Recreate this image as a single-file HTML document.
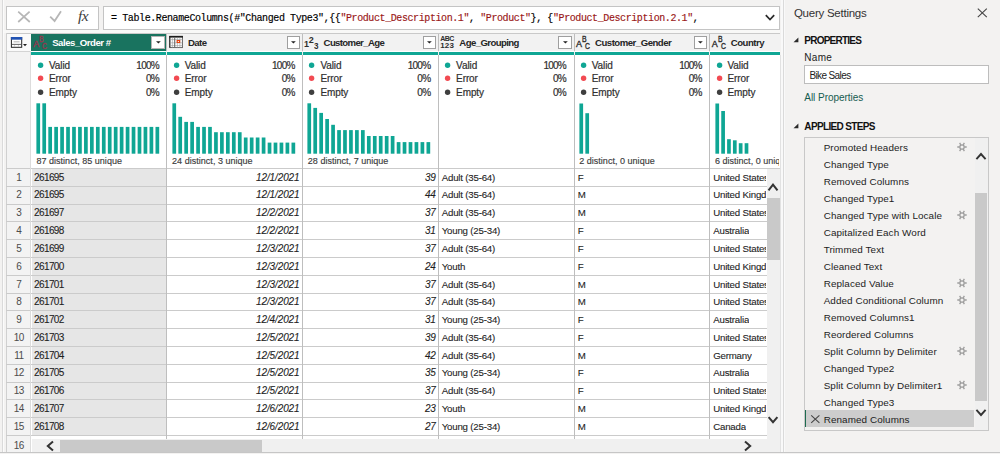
<!DOCTYPE html>
<html lang="en"><head><meta charset="utf-8"><title>Power Query Editor - Bike Sales</title><style>
html,body{margin:0;padding:0;background:#f3f2f1;}
body{width:1000px;height:454px;overflow:hidden;}
#app{position:relative;width:1000px;height:454px;overflow:hidden;background:#f3f2f1;font-family:"Liberation Sans", sans-serif;}
#app>div,#app>svg,#app>span{position:absolute;}
.t{white-space:pre;line-height:20px;height:20px;display:block;}
.k{-webkit-text-stroke:0.1px currentColor;}
.ds{-webkit-text-stroke:0.15px currentColor;}
</style></head><body>
<div id="app">
<div style="left:2px;top:0px;width:1px;height:452px;background:#dadada;"></div>
<div style="left:3px;top:0px;width:1px;height:452px;background:#fbfbfb;"></div>
<div style="left:6px;top:6px;width:92.5px;height:23.5px;background:#fff;border:1px solid #c4c4c4;box-sizing:border-box;"></div>
<div style="left:103px;top:6px;width:676.7px;height:23.5px;background:#fff;border:1px solid #c4c4c4;box-sizing:border-box;"></div>
<svg style="left:16px;top:9px" width="76" height="18" viewBox="16 9 76 18"><path d="M18.2 11.6 L29.8 22 M29.6 11.6 L18.2 22" stroke="#b6b6b6" stroke-width="1.7" fill="none"/><path d="M50.2 16.6 L54.6 21 L61 11.2" stroke="#b6b6b6" stroke-width="1.8" fill="none"/></svg>
<span class="t " id="fx" style="top:5.75px;font-size:15.5px;font-family:'Liberation Serif', serif;color:#3c3c3c;font-style:italic;letter-spacing:-0.600px;left:78.00px;">fx</span>
<span class="t" id="formula" style="left:111.1px;top:8.75px;font-family:'Liberation Mono', monospace;font-size:10px;letter-spacing:-0.408px;color:#000;-webkit-text-stroke:0.15px currentColor">= Table.RenameColumns(#&quot;Changed Type3&quot;,{{<span style="color:#9a1717">&quot;Product_Description.1&quot;</span>, <span style="color:#9a1717">&quot;Product&quot;</span>}, {<span style="color:#9a1717">&quot;Product_Description.2.1&quot;</span>,</span>
<svg style="left:764px;top:13px" width="12" height="9" viewBox="0 0 12 9"><path d="M1.8 2.2 L6 6.6 L10.2 2.2" stroke="#2a2a2a" stroke-width="1.7" fill="none"/></svg>
<div style="left:4px;top:30px;width:776px;height:3px;background:#f8f8f7;"></div>
<div style="left:6px;top:33px;width:774px;height:419px;background:#fff;"></div>
<div style="left:6px;top:33px;width:774px;height:18.2px;background:#f2f2f2;"></div>
<div style="left:7px;top:34px;width:24px;height:17px;background:#fafafa;"></div>
<div style="left:6px;top:33px;width:774px;height:1px;background:#c9c9c9;"></div>
<div style="left:6px;top:51.2px;width:25px;height:400.8px;background:#f3f3f3;"></div>
<div style="left:6px;top:33px;width:1px;height:419px;background:#d0d0d0;"></div>
<div style="left:31px;top:34px;width:135.2px;height:16.8px;background:#19735f;"></div>
<div style="left:31px;top:50.8px;width:749px;height:1.2px;background:#fff;"></div>
<div style="left:31px;top:52px;width:749px;height:3px;background:#0fa694;"></div>
<div style="left:31.5px;top:168.5px;width:135.2px;height:267.0px;background:#e6e6e6;"></div>
<div style="left:6px;top:168px;width:774px;height:1px;background:#cbcbcb;"></div>
<div style="left:6px;top:186px;width:760.5px;height:1px;background:#cbcbcb;"></div>
<div style="left:6px;top:204px;width:760.5px;height:1px;background:#cbcbcb;"></div>
<div style="left:6px;top:221px;width:760.5px;height:1px;background:#cbcbcb;"></div>
<div style="left:6px;top:239px;width:760.5px;height:1px;background:#cbcbcb;"></div>
<div style="left:6px;top:257px;width:760.5px;height:1px;background:#cbcbcb;"></div>
<div style="left:6px;top:275px;width:760.5px;height:1px;background:#cbcbcb;"></div>
<div style="left:6px;top:293px;width:760.5px;height:1px;background:#cbcbcb;"></div>
<div style="left:6px;top:310px;width:760.5px;height:1px;background:#cbcbcb;"></div>
<div style="left:6px;top:328px;width:760.5px;height:1px;background:#cbcbcb;"></div>
<div style="left:6px;top:346px;width:760.5px;height:1px;background:#cbcbcb;"></div>
<div style="left:6px;top:364px;width:760.5px;height:1px;background:#cbcbcb;"></div>
<div style="left:6px;top:382px;width:760.5px;height:1px;background:#cbcbcb;"></div>
<div style="left:6px;top:399px;width:760.5px;height:1px;background:#cbcbcb;"></div>
<div style="left:6px;top:417px;width:760.5px;height:1px;background:#cbcbcb;"></div>
<div style="left:6px;top:435px;width:760.5px;height:1px;background:#cbcbcb;"></div>
<div style="left:6px;top:51px;width:25px;height:1px;background:#d4d4d4;"></div>
<div style="left:30px;top:51px;width:1px;height:401px;background:#dcdcdc;"></div>
<div style="left:166px;top:34px;width:1px;height:405px;background:#bebebe;"></div>
<div style="left:166px;top:50.8px;width:1px;height:4.2px;background:#eee;"></div>
<div style="left:302px;top:34px;width:1px;height:405px;background:#bebebe;"></div>
<div style="left:302px;top:50.8px;width:1px;height:4.2px;background:#eee;"></div>
<div style="left:438px;top:34px;width:1px;height:405px;background:#bebebe;"></div>
<div style="left:438px;top:50.8px;width:1px;height:4.2px;background:#eee;"></div>
<div style="left:574px;top:34px;width:1px;height:405px;background:#bebebe;"></div>
<div style="left:574px;top:50.8px;width:1px;height:4.2px;background:#eee;"></div>
<div style="left:709px;top:34px;width:1px;height:405px;background:#bebebe;"></div>
<div style="left:709px;top:50.8px;width:1px;height:4.2px;background:#eee;"></div>
<svg style="left:10px;top:36px" width="19" height="13" viewBox="10 36 19 13"><rect x="11.4" y="37.5" width="10.3" height="9.8" fill="#fff" stroke="#222" stroke-width="1"/><rect x="10.9" y="37" width="11.3" height="2.7" fill="#2153b3"/><rect x="13.6" y="41.2" width="6" height="1.2" fill="#bdbdbd"/><path d="M12 44.4 H21" stroke="#555" stroke-width="0.9" fill="none"/><path d="M14.6 45 V47 M18.4 45 V47" stroke="#bbb" stroke-width="0.7" fill="none"/><path d="M23 44 H27 L25 46.3 Z" fill="#222"/></svg>
<span class="t ic" style="top:34.25px;font-size:9px;color:#96364e;left:33.30px;-webkit-text-stroke:0.35px #96364e;transform-origin:left center;">A</span>
<span class="t ic" style="top:29.25px;font-size:8.6px;color:#96364e;left:39.00px;-webkit-text-stroke:0.35px #96364e;transform-origin:left center;transform:scaleX(0.8);">B</span>
<span class="t ic" style="top:36.25px;font-size:8.4px;color:#96364e;left:42.10px;-webkit-text-stroke:0.35px #96364e;transform-origin:left center;transform:scaleX(0.82);">C</span>
<span class="t " id="h0" style="top:32.75px;font-size:9.6px;color:#fff;font-weight:bold;letter-spacing:-0.470px;left:52.20px;">Sales_Order #</span>
<div style="left:151.1px;top:36px;width:13.6px;height:12.8px;background:#fff;border:1px solid #b4b4b4;box-sizing:border-box"></div>
<svg style="left:155.5px;top:41px" width="5" height="3" viewBox="0 0 5 3"><path d="M0 0.2 H4.8 L2.4 2.6 Z" fill="#222"/></svg>
<svg style="left:168.7px;top:35px" width="15" height="14" viewBox="0 0 15 14"><rect x="0.8" y="1.4" width="12.6" height="11.2" fill="#fdfdfd" stroke="#555" stroke-width="0.9"/><rect x="0.3" y="0.9" width="13.6" height="1.7" fill="#1c1c1c"/><path d="M0.8 1 V12.6" stroke="#222" stroke-width="1"/><path d="M0.8 4.6 H13.4 M0.8 7.8 H13.4 M0.8 10.6 H13.4 M3.4 2.6 V12.6 M5.7 2.6 V12.6 M8.4 2.6 V12.6 M10.9 2.6 V12.6" stroke="#9a9a9a" stroke-width="0.6" fill="none"/><path d="M5.7 2.6 V12.6" stroke="#555" stroke-width="0.8"/><rect x="7.6" y="5" width="3.6" height="3" fill="#e8420e"/><rect x="8.8" y="6" width="1.2" height="0.9" fill="#fff"/></svg>
<span class="t " id="h1" style="top:32.75px;font-size:9.6px;color:#252525;font-weight:bold;letter-spacing:-0.517px;left:187.90px;">Date</span>
<div style="left:286.8px;top:36px;width:13.6px;height:12.8px;background:#fff;border:1px solid #9f9f9f;box-sizing:border-box"></div>
<svg style="left:291.2px;top:41px" width="5" height="3" viewBox="0 0 5 3"><path d="M0 0.2 H4.8 L2.4 2.6 Z" fill="#222"/></svg>
<span class="t ic" style="top:34.25px;font-size:9px;color:#2e2e2e;font-weight:bold;left:304.10px;">1</span>
<span class="t ic" style="top:30.25px;font-size:9px;color:#2e2e2e;font-weight:bold;left:308.80px;">2</span>
<span class="t ic" style="top:36.25px;font-size:9px;color:#2e2e2e;font-weight:bold;left:313.60px;transform:scaleX(0.9);transform-origin:left center;">3</span>
<span class="t " id="h2" style="top:32.75px;font-size:9.6px;color:#252525;font-weight:bold;letter-spacing:-0.647px;left:323.60px;">Customer_Age</span>
<div style="left:422.5px;top:36px;width:13.6px;height:12.8px;background:#fff;border:1px solid #9f9f9f;box-sizing:border-box"></div>
<svg style="left:426.9px;top:41px" width="5" height="3" viewBox="0 0 5 3"><path d="M0 0.2 H4.8 L2.4 2.6 Z" fill="#222"/></svg>
<span class="t ic" style="top:28.75px;font-size:7px;color:#2e2e2e;font-weight:bold;letter-spacing:-0.550px;left:440.30px;">ABC</span>
<span class="t ic" style="top:35.75px;font-size:8px;color:#2e2e2e;font-weight:bold;letter-spacing:0.100px;left:440.30px;">123</span>
<span class="t " id="h3" style="top:32.75px;font-size:9.6px;color:#252525;font-weight:bold;letter-spacing:-0.595px;left:459.30px;">Age_Grouping</span>
<div style="left:558.2px;top:36px;width:13.6px;height:12.8px;background:#fff;border:1px solid #9f9f9f;box-sizing:border-box"></div>
<svg style="left:562.6px;top:41px" width="5" height="3" viewBox="0 0 5 3"><path d="M0 0.2 H4.8 L2.4 2.6 Z" fill="#222"/></svg>
<span class="t ic" style="top:34.25px;font-size:9px;color:#2e2e2e;left:576.10px;-webkit-text-stroke:0.35px #2e2e2e;transform-origin:left center;">A</span>
<span class="t ic" style="top:29.25px;font-size:8.6px;color:#2e2e2e;left:581.80px;-webkit-text-stroke:0.35px #2e2e2e;transform-origin:left center;transform:scaleX(0.8);">B</span>
<span class="t ic" style="top:36.25px;font-size:8.4px;color:#2e2e2e;left:584.90px;-webkit-text-stroke:0.35px #2e2e2e;transform-origin:left center;transform:scaleX(0.82);">C</span>
<span class="t " id="h4" style="top:32.75px;font-size:9.6px;color:#252525;font-weight:bold;letter-spacing:-0.494px;left:595.00px;">Customer_Gender</span>
<div style="left:693.9px;top:36px;width:13.6px;height:12.8px;background:#fff;border:1px solid #9f9f9f;box-sizing:border-box"></div>
<svg style="left:698.3px;top:41px" width="5" height="3" viewBox="0 0 5 3"><path d="M0 0.2 H4.8 L2.4 2.6 Z" fill="#222"/></svg>
<span class="t ic" style="top:34.25px;font-size:9px;color:#2e2e2e;left:711.80px;-webkit-text-stroke:0.35px #2e2e2e;transform-origin:left center;">A</span>
<span class="t ic" style="top:29.25px;font-size:8.6px;color:#2e2e2e;left:717.50px;-webkit-text-stroke:0.35px #2e2e2e;transform-origin:left center;transform:scaleX(0.8);">B</span>
<span class="t ic" style="top:36.25px;font-size:8.4px;color:#2e2e2e;left:720.60px;-webkit-text-stroke:0.35px #2e2e2e;transform-origin:left center;transform:scaleX(0.82);">C</span>
<span class="t " id="h5" style="top:32.75px;font-size:9.6px;color:#252525;font-weight:bold;letter-spacing:-0.467px;left:730.70px;">Country</span>
<svg style="left:36.00px;top:59.80px" width="10" height="10" viewBox="0 0 10 10"><circle cx="4.6" cy="5.2" r="2.7" fill="#0fa694"/></svg>
<span class="t st" id="stat" style="top:55.75px;font-size:10px;color:#2e2e2e;letter-spacing:-0.100px;left:49.00px;-webkit-text-stroke:0.2px #333;">Valid</span>
<span class="t st" id="pct" style="top:55.75px;font-size:10px;color:#2e2e2e;letter-spacing:-0.750px;right:841.10px;-webkit-text-stroke:0.2px #333;">100%</span>
<svg style="left:36.00px;top:73.40px" width="10" height="10" viewBox="0 0 10 10"><circle cx="4.6" cy="5.2" r="2.7" fill="#f24a52"/></svg>
<span class="t st" style="top:68.75px;font-size:10px;color:#2e2e2e;letter-spacing:-0.100px;left:49.00px;-webkit-text-stroke:0.2px #333;">Error</span>
<span class="t st" style="top:68.75px;font-size:10px;color:#2e2e2e;letter-spacing:-0.750px;right:841.10px;-webkit-text-stroke:0.2px #333;">0%</span>
<svg style="left:36.00px;top:87.00px" width="10" height="10" viewBox="0 0 10 10"><circle cx="4.6" cy="5.2" r="2.7" fill="#3f3f3f"/></svg>
<span class="t st" style="top:82.75px;font-size:10px;color:#2e2e2e;letter-spacing:-0.100px;left:49.00px;-webkit-text-stroke:0.2px #333;">Empty</span>
<span class="t st" style="top:82.75px;font-size:10px;color:#2e2e2e;letter-spacing:-0.750px;right:841.10px;-webkit-text-stroke:0.2px #333;">0%</span>
<svg style="left:31.00px;top:100px" width="134" height="56" viewBox="0 0 134 56" fill="#0fa694"><rect x="5.40" y="3.30" width="3.7" height="50.40"/><rect x="11.36" y="3.30" width="3.7" height="50.40"/><rect x="17.31" y="26.90" width="3.7" height="26.80"/><rect x="23.27" y="26.90" width="3.7" height="26.80"/><rect x="29.22" y="26.90" width="3.7" height="26.80"/><rect x="35.17" y="26.90" width="3.7" height="26.80"/><rect x="41.13" y="26.90" width="3.7" height="26.80"/><rect x="47.09" y="26.90" width="3.7" height="26.80"/><rect x="53.04" y="26.90" width="3.7" height="26.80"/><rect x="58.99" y="26.90" width="3.7" height="26.80"/><rect x="64.95" y="26.90" width="3.7" height="26.80"/><rect x="70.91" y="26.90" width="3.7" height="26.80"/><rect x="76.86" y="26.90" width="3.7" height="26.80"/><rect x="82.82" y="26.90" width="3.7" height="26.80"/><rect x="88.77" y="26.90" width="3.7" height="26.80"/><rect x="94.73" y="26.90" width="3.7" height="26.80"/><rect x="100.68" y="26.90" width="3.7" height="26.80"/><rect x="106.64" y="26.90" width="3.7" height="26.80"/><rect x="112.59" y="26.90" width="3.7" height="26.80"/><rect x="118.55" y="26.90" width="3.7" height="26.80"/><rect x="124.50" y="26.90" width="3.7" height="26.80"/></svg>
<span class="t ds" id="dist0" style="top:151.25px;font-size:9px;color:#3c3c3c;letter-spacing:0.024px;left:36.40px;">87 distinct, 85 unique</span>
<svg style="left:171.70px;top:59.80px" width="10" height="10" viewBox="0 0 10 10"><circle cx="4.6" cy="5.2" r="2.7" fill="#0fa694"/></svg>
<span class="t st" style="top:55.75px;font-size:10px;color:#2e2e2e;letter-spacing:-0.100px;left:184.70px;-webkit-text-stroke:0.2px #333;">Valid</span>
<span class="t st" style="top:55.75px;font-size:10px;color:#2e2e2e;letter-spacing:-0.750px;right:705.40px;-webkit-text-stroke:0.2px #333;">100%</span>
<svg style="left:171.70px;top:73.40px" width="10" height="10" viewBox="0 0 10 10"><circle cx="4.6" cy="5.2" r="2.7" fill="#f24a52"/></svg>
<span class="t st" style="top:68.75px;font-size:10px;color:#2e2e2e;letter-spacing:-0.100px;left:184.70px;-webkit-text-stroke:0.2px #333;">Error</span>
<span class="t st" style="top:68.75px;font-size:10px;color:#2e2e2e;letter-spacing:-0.750px;right:705.40px;-webkit-text-stroke:0.2px #333;">0%</span>
<svg style="left:171.70px;top:87.00px" width="10" height="10" viewBox="0 0 10 10"><circle cx="4.6" cy="5.2" r="2.7" fill="#3f3f3f"/></svg>
<span class="t st" style="top:82.75px;font-size:10px;color:#2e2e2e;letter-spacing:-0.100px;left:184.70px;-webkit-text-stroke:0.2px #333;">Empty</span>
<span class="t st" style="top:82.75px;font-size:10px;color:#2e2e2e;letter-spacing:-0.750px;right:705.40px;-webkit-text-stroke:0.2px #333;">0%</span>
<svg style="left:166.70px;top:100px" width="134" height="56" viewBox="0 0 134 56" fill="#0fa694"><rect x="5.40" y="3.30" width="3.7" height="50.40"/><rect x="11.36" y="16.80" width="3.7" height="36.90"/><rect x="17.31" y="21.90" width="3.7" height="31.80"/><rect x="23.27" y="21.90" width="3.7" height="31.80"/><rect x="29.22" y="26.90" width="3.7" height="26.80"/><rect x="35.17" y="26.90" width="3.7" height="26.80"/><rect x="41.13" y="26.90" width="3.7" height="26.80"/><rect x="47.09" y="32.20" width="3.7" height="21.50"/><rect x="53.04" y="32.20" width="3.7" height="21.50"/><rect x="58.99" y="32.20" width="3.7" height="21.50"/><rect x="64.95" y="32.20" width="3.7" height="21.50"/><rect x="70.91" y="32.20" width="3.7" height="21.50"/><rect x="76.86" y="37.50" width="3.7" height="16.20"/><rect x="82.82" y="37.50" width="3.7" height="16.20"/><rect x="88.77" y="37.50" width="3.7" height="16.20"/><rect x="94.73" y="37.50" width="3.7" height="16.20"/><rect x="100.68" y="42.60" width="3.7" height="11.10"/><rect x="106.64" y="42.60" width="3.7" height="11.10"/><rect x="112.59" y="42.60" width="3.7" height="11.10"/><rect x="118.55" y="42.60" width="3.7" height="11.10"/><rect x="124.50" y="42.60" width="3.7" height="11.10"/></svg>
<span class="t ds" id="dist1" style="top:151.25px;font-size:9px;color:#3c3c3c;letter-spacing:0.024px;left:172.10px;">24 distinct, 3 unique</span>
<svg style="left:307.40px;top:59.80px" width="10" height="10" viewBox="0 0 10 10"><circle cx="4.6" cy="5.2" r="2.7" fill="#0fa694"/></svg>
<span class="t st" style="top:55.75px;font-size:10px;color:#2e2e2e;letter-spacing:-0.100px;left:320.40px;-webkit-text-stroke:0.2px #333;">Valid</span>
<span class="t st" style="top:55.75px;font-size:10px;color:#2e2e2e;letter-spacing:-0.750px;right:569.70px;-webkit-text-stroke:0.2px #333;">100%</span>
<svg style="left:307.40px;top:73.40px" width="10" height="10" viewBox="0 0 10 10"><circle cx="4.6" cy="5.2" r="2.7" fill="#f24a52"/></svg>
<span class="t st" style="top:68.75px;font-size:10px;color:#2e2e2e;letter-spacing:-0.100px;left:320.40px;-webkit-text-stroke:0.2px #333;">Error</span>
<span class="t st" style="top:68.75px;font-size:10px;color:#2e2e2e;letter-spacing:-0.750px;right:569.70px;-webkit-text-stroke:0.2px #333;">0%</span>
<svg style="left:307.40px;top:87.00px" width="10" height="10" viewBox="0 0 10 10"><circle cx="4.6" cy="5.2" r="2.7" fill="#3f3f3f"/></svg>
<span class="t st" style="top:82.75px;font-size:10px;color:#2e2e2e;letter-spacing:-0.100px;left:320.40px;-webkit-text-stroke:0.2px #333;">Empty</span>
<span class="t st" style="top:82.75px;font-size:10px;color:#2e2e2e;letter-spacing:-0.750px;right:569.70px;-webkit-text-stroke:0.2px #333;">0%</span>
<svg style="left:302.40px;top:100px" width="134" height="56" viewBox="0 0 134 56" fill="#0fa694"><rect x="5.40" y="3.30" width="3.7" height="50.40"/><rect x="11.36" y="7.90" width="3.7" height="45.80"/><rect x="17.31" y="12.90" width="3.7" height="40.80"/><rect x="23.27" y="19.00" width="3.7" height="34.70"/><rect x="29.22" y="24.80" width="3.7" height="28.90"/><rect x="35.17" y="30.10" width="3.7" height="23.60"/><rect x="41.13" y="30.10" width="3.7" height="23.60"/><rect x="47.09" y="30.10" width="3.7" height="23.60"/><rect x="53.04" y="30.10" width="3.7" height="23.60"/><rect x="58.99" y="30.10" width="3.7" height="23.60"/><rect x="64.95" y="36.00" width="3.7" height="17.70"/><rect x="70.91" y="36.00" width="3.7" height="17.70"/><rect x="76.86" y="36.00" width="3.7" height="17.70"/><rect x="82.82" y="36.00" width="3.7" height="17.70"/><rect x="88.77" y="36.00" width="3.7" height="17.70"/><rect x="94.73" y="42.10" width="3.7" height="11.60"/><rect x="100.68" y="42.10" width="3.7" height="11.60"/><rect x="106.64" y="42.10" width="3.7" height="11.60"/><rect x="112.59" y="42.10" width="3.7" height="11.60"/><rect x="118.55" y="42.10" width="3.7" height="11.60"/><rect x="124.50" y="42.10" width="3.7" height="11.60"/></svg>
<span class="t ds" id="dist2" style="top:151.25px;font-size:9px;color:#3c3c3c;letter-spacing:0.024px;left:307.80px;">28 distinct, 7 unique</span>
<svg style="left:443.10px;top:59.80px" width="10" height="10" viewBox="0 0 10 10"><circle cx="4.6" cy="5.2" r="2.7" fill="#0fa694"/></svg>
<span class="t st" style="top:55.75px;font-size:10px;color:#2e2e2e;letter-spacing:-0.100px;left:456.10px;-webkit-text-stroke:0.2px #333;">Valid</span>
<span class="t st" style="top:55.75px;font-size:10px;color:#2e2e2e;letter-spacing:-0.750px;right:434.00px;-webkit-text-stroke:0.2px #333;">100%</span>
<svg style="left:443.10px;top:73.40px" width="10" height="10" viewBox="0 0 10 10"><circle cx="4.6" cy="5.2" r="2.7" fill="#f24a52"/></svg>
<span class="t st" style="top:68.75px;font-size:10px;color:#2e2e2e;letter-spacing:-0.100px;left:456.10px;-webkit-text-stroke:0.2px #333;">Error</span>
<span class="t st" style="top:68.75px;font-size:10px;color:#2e2e2e;letter-spacing:-0.750px;right:434.00px;-webkit-text-stroke:0.2px #333;">0%</span>
<svg style="left:443.10px;top:87.00px" width="10" height="10" viewBox="0 0 10 10"><circle cx="4.6" cy="5.2" r="2.7" fill="#3f3f3f"/></svg>
<span class="t st" style="top:82.75px;font-size:10px;color:#2e2e2e;letter-spacing:-0.100px;left:456.10px;-webkit-text-stroke:0.2px #333;">Empty</span>
<span class="t st" style="top:82.75px;font-size:10px;color:#2e2e2e;letter-spacing:-0.750px;right:434.00px;-webkit-text-stroke:0.2px #333;">0%</span>
<svg style="left:578.80px;top:59.80px" width="10" height="10" viewBox="0 0 10 10"><circle cx="4.6" cy="5.2" r="2.7" fill="#0fa694"/></svg>
<span class="t st" style="top:55.75px;font-size:10px;color:#2e2e2e;letter-spacing:-0.100px;left:591.80px;-webkit-text-stroke:0.2px #333;">Valid</span>
<span class="t st" style="top:55.75px;font-size:10px;color:#2e2e2e;letter-spacing:-0.750px;right:298.30px;-webkit-text-stroke:0.2px #333;">100%</span>
<svg style="left:578.80px;top:73.40px" width="10" height="10" viewBox="0 0 10 10"><circle cx="4.6" cy="5.2" r="2.7" fill="#f24a52"/></svg>
<span class="t st" style="top:68.75px;font-size:10px;color:#2e2e2e;letter-spacing:-0.100px;left:591.80px;-webkit-text-stroke:0.2px #333;">Error</span>
<span class="t st" style="top:68.75px;font-size:10px;color:#2e2e2e;letter-spacing:-0.750px;right:298.30px;-webkit-text-stroke:0.2px #333;">0%</span>
<svg style="left:578.80px;top:87.00px" width="10" height="10" viewBox="0 0 10 10"><circle cx="4.6" cy="5.2" r="2.7" fill="#3f3f3f"/></svg>
<span class="t st" style="top:82.75px;font-size:10px;color:#2e2e2e;letter-spacing:-0.100px;left:591.80px;-webkit-text-stroke:0.2px #333;">Empty</span>
<span class="t st" style="top:82.75px;font-size:10px;color:#2e2e2e;letter-spacing:-0.750px;right:298.30px;-webkit-text-stroke:0.2px #333;">0%</span>
<svg style="left:573.80px;top:100px" width="134" height="56" viewBox="0 0 134 56" fill="#0fa694"><rect x="5.40" y="3.50" width="3.7" height="50.20"/><rect x="11.36" y="13.20" width="3.7" height="40.50"/></svg>
<span class="t ds" id="dist4" style="top:151.25px;font-size:9px;color:#3c3c3c;letter-spacing:0.024px;left:579.20px;">2 distinct, 0 unique</span>
<svg style="left:714.50px;top:59.80px" width="10" height="10" viewBox="0 0 10 10"><circle cx="4.6" cy="5.2" r="2.7" fill="#0fa694"/></svg>
<span class="t st" style="top:55.75px;font-size:10px;color:#2e2e2e;letter-spacing:-0.100px;left:727.50px;-webkit-text-stroke:0.2px #333;">Valid</span>
<svg style="left:714.50px;top:73.40px" width="10" height="10" viewBox="0 0 10 10"><circle cx="4.6" cy="5.2" r="2.7" fill="#f24a52"/></svg>
<span class="t st" style="top:68.75px;font-size:10px;color:#2e2e2e;letter-spacing:-0.100px;left:727.50px;-webkit-text-stroke:0.2px #333;">Error</span>
<svg style="left:714.50px;top:87.00px" width="10" height="10" viewBox="0 0 10 10"><circle cx="4.6" cy="5.2" r="2.7" fill="#3f3f3f"/></svg>
<span class="t st" style="top:82.75px;font-size:10px;color:#2e2e2e;letter-spacing:-0.100px;left:727.50px;-webkit-text-stroke:0.2px #333;">Empty</span>
<svg style="left:709.50px;top:100px" width="134" height="56" viewBox="0 0 134 56" fill="#0fa694"><rect x="5.40" y="3.50" width="3.7" height="50.20"/><rect x="11.25" y="11.00" width="3.7" height="42.70"/><rect x="17.10" y="39.20" width="3.7" height="14.50"/><rect x="22.95" y="40.30" width="3.7" height="13.40"/><rect x="28.80" y="43.20" width="3.7" height="10.50"/><rect x="34.65" y="43.20" width="3.7" height="10.50"/></svg>
<span class="t ds" id="dist5" style="top:151.25px;font-size:9px;color:#3c3c3c;letter-spacing:0.024px;left:714.90px;max-width:64.5px;overflow:hidden;">6 distinct, 0 unique</span>
<span class="t rn" style="top:167.75px;font-size:10px;color:#4c4c4c;letter-spacing:-0.600px;left:-81.20px;width:200px;text-align:center;">1</span>
<span class="t k" id="c0" style="top:167.75px;font-size:10px;color:#1e1e1e;letter-spacing:-0.600px;left:34.00px;">261695</span>
<span class="t k" id="c1" style="top:167.75px;font-size:10px;color:#1e1e1e;font-style:italic;letter-spacing:-0.120px;right:700.50px;">12/1/2021</span>
<span class="t k" style="top:167.75px;font-size:10px;color:#1e1e1e;font-style:italic;letter-spacing:-0.120px;right:564.20px;">39</span>
<span class="t k" id="c3" style="top:167.75px;font-size:9.7px;color:#1e1e1e;letter-spacing:-0.200px;left:441.70px;">Adult (35-64)</span>
<span class="t k" style="top:167.75px;font-size:9.7px;color:#1e1e1e;letter-spacing:-0.200px;left:577.80px;">F</span>
<span class="t k" style="top:167.75px;font-size:9.7px;color:#1e1e1e;letter-spacing:-0.200px;left:713.20px;max-width:52.6px;overflow:hidden;">United States</span>
<span class="t rn" style="top:184.75px;font-size:10px;color:#4c4c4c;letter-spacing:-0.600px;left:-81.20px;width:200px;text-align:center;">2</span>
<span class="t k" style="top:184.75px;font-size:10px;color:#1e1e1e;letter-spacing:-0.600px;left:34.00px;">261695</span>
<span class="t k" style="top:184.75px;font-size:10px;color:#1e1e1e;font-style:italic;letter-spacing:-0.120px;right:700.50px;">12/1/2021</span>
<span class="t k" style="top:184.75px;font-size:10px;color:#1e1e1e;font-style:italic;letter-spacing:-0.120px;right:564.20px;">44</span>
<span class="t k" style="top:184.75px;font-size:9.7px;color:#1e1e1e;letter-spacing:-0.200px;left:441.70px;">Adult (35-64)</span>
<span class="t k" style="top:184.75px;font-size:9.7px;color:#1e1e1e;letter-spacing:-0.200px;left:577.80px;">M</span>
<span class="t k" style="top:184.75px;font-size:9.7px;color:#1e1e1e;letter-spacing:-0.200px;left:713.20px;max-width:52.6px;overflow:hidden;">United Kingdom</span>
<span class="t rn" style="top:202.75px;font-size:10px;color:#4c4c4c;letter-spacing:-0.600px;left:-81.20px;width:200px;text-align:center;">3</span>
<span class="t k" style="top:202.75px;font-size:10px;color:#1e1e1e;letter-spacing:-0.600px;left:34.00px;">261697</span>
<span class="t k" style="top:202.75px;font-size:10px;color:#1e1e1e;font-style:italic;letter-spacing:-0.120px;right:700.50px;">12/2/2021</span>
<span class="t k" style="top:202.75px;font-size:10px;color:#1e1e1e;font-style:italic;letter-spacing:-0.120px;right:564.20px;">37</span>
<span class="t k" style="top:202.75px;font-size:9.7px;color:#1e1e1e;letter-spacing:-0.200px;left:441.70px;">Adult (35-64)</span>
<span class="t k" style="top:202.75px;font-size:9.7px;color:#1e1e1e;letter-spacing:-0.200px;left:577.80px;">M</span>
<span class="t k" style="top:202.75px;font-size:9.7px;color:#1e1e1e;letter-spacing:-0.200px;left:713.20px;max-width:52.6px;overflow:hidden;">United States</span>
<span class="t rn" style="top:220.75px;font-size:10px;color:#4c4c4c;letter-spacing:-0.600px;left:-81.20px;width:200px;text-align:center;">4</span>
<span class="t k" style="top:220.75px;font-size:10px;color:#1e1e1e;letter-spacing:-0.600px;left:34.00px;">261698</span>
<span class="t k" style="top:220.75px;font-size:10px;color:#1e1e1e;font-style:italic;letter-spacing:-0.120px;right:700.50px;">12/2/2021</span>
<span class="t k" style="top:220.75px;font-size:10px;color:#1e1e1e;font-style:italic;letter-spacing:-0.120px;right:564.20px;">31</span>
<span class="t k" style="top:220.75px;font-size:9.7px;color:#1e1e1e;letter-spacing:-0.200px;left:441.70px;">Young (25-34)</span>
<span class="t k" style="top:220.75px;font-size:9.7px;color:#1e1e1e;letter-spacing:-0.200px;left:577.80px;">F</span>
<span class="t k" style="top:220.75px;font-size:9.7px;color:#1e1e1e;letter-spacing:-0.200px;left:713.20px;max-width:52.6px;overflow:hidden;">Australia</span>
<span class="t rn" style="top:238.75px;font-size:10px;color:#4c4c4c;letter-spacing:-0.600px;left:-81.20px;width:200px;text-align:center;">5</span>
<span class="t k" style="top:238.75px;font-size:10px;color:#1e1e1e;letter-spacing:-0.600px;left:34.00px;">261699</span>
<span class="t k" style="top:238.75px;font-size:10px;color:#1e1e1e;font-style:italic;letter-spacing:-0.120px;right:700.50px;">12/3/2021</span>
<span class="t k" style="top:238.75px;font-size:10px;color:#1e1e1e;font-style:italic;letter-spacing:-0.120px;right:564.20px;">37</span>
<span class="t k" style="top:238.75px;font-size:9.7px;color:#1e1e1e;letter-spacing:-0.200px;left:441.70px;">Adult (35-64)</span>
<span class="t k" style="top:238.75px;font-size:9.7px;color:#1e1e1e;letter-spacing:-0.200px;left:577.80px;">F</span>
<span class="t k" style="top:238.75px;font-size:9.7px;color:#1e1e1e;letter-spacing:-0.200px;left:713.20px;max-width:52.6px;overflow:hidden;">United States</span>
<span class="t rn" style="top:256.75px;font-size:10px;color:#4c4c4c;letter-spacing:-0.600px;left:-81.20px;width:200px;text-align:center;">6</span>
<span class="t k" style="top:256.75px;font-size:10px;color:#1e1e1e;letter-spacing:-0.600px;left:34.00px;">261700</span>
<span class="t k" style="top:256.75px;font-size:10px;color:#1e1e1e;font-style:italic;letter-spacing:-0.120px;right:700.50px;">12/3/2021</span>
<span class="t k" style="top:256.75px;font-size:10px;color:#1e1e1e;font-style:italic;letter-spacing:-0.120px;right:564.20px;">24</span>
<span class="t k" style="top:256.75px;font-size:9.7px;color:#1e1e1e;letter-spacing:-0.200px;left:441.70px;">Youth</span>
<span class="t k" style="top:256.75px;font-size:9.7px;color:#1e1e1e;letter-spacing:-0.200px;left:577.80px;">F</span>
<span class="t k" style="top:256.75px;font-size:9.7px;color:#1e1e1e;letter-spacing:-0.200px;left:713.20px;max-width:52.6px;overflow:hidden;">United Kingdom</span>
<span class="t rn" style="top:274.75px;font-size:10px;color:#4c4c4c;letter-spacing:-0.600px;left:-81.20px;width:200px;text-align:center;">7</span>
<span class="t k" style="top:274.75px;font-size:10px;color:#1e1e1e;letter-spacing:-0.600px;left:34.00px;">261701</span>
<span class="t k" style="top:274.75px;font-size:10px;color:#1e1e1e;font-style:italic;letter-spacing:-0.120px;right:700.50px;">12/3/2021</span>
<span class="t k" style="top:274.75px;font-size:10px;color:#1e1e1e;font-style:italic;letter-spacing:-0.120px;right:564.20px;">37</span>
<span class="t k" style="top:274.75px;font-size:9.7px;color:#1e1e1e;letter-spacing:-0.200px;left:441.70px;">Adult (35-64)</span>
<span class="t k" style="top:274.75px;font-size:9.7px;color:#1e1e1e;letter-spacing:-0.200px;left:577.80px;">M</span>
<span class="t k" style="top:274.75px;font-size:9.7px;color:#1e1e1e;letter-spacing:-0.200px;left:713.20px;max-width:52.6px;overflow:hidden;">United States</span>
<span class="t rn" style="top:291.75px;font-size:10px;color:#4c4c4c;letter-spacing:-0.600px;left:-81.20px;width:200px;text-align:center;">8</span>
<span class="t k" style="top:291.75px;font-size:10px;color:#1e1e1e;letter-spacing:-0.600px;left:34.00px;">261701</span>
<span class="t k" style="top:291.75px;font-size:10px;color:#1e1e1e;font-style:italic;letter-spacing:-0.120px;right:700.50px;">12/3/2021</span>
<span class="t k" style="top:291.75px;font-size:10px;color:#1e1e1e;font-style:italic;letter-spacing:-0.120px;right:564.20px;">37</span>
<span class="t k" style="top:291.75px;font-size:9.7px;color:#1e1e1e;letter-spacing:-0.200px;left:441.70px;">Adult (35-64)</span>
<span class="t k" style="top:291.75px;font-size:9.7px;color:#1e1e1e;letter-spacing:-0.200px;left:577.80px;">M</span>
<span class="t k" style="top:291.75px;font-size:9.7px;color:#1e1e1e;letter-spacing:-0.200px;left:713.20px;max-width:52.6px;overflow:hidden;">United States</span>
<span class="t rn" style="top:309.75px;font-size:10px;color:#4c4c4c;letter-spacing:-0.600px;left:-81.20px;width:200px;text-align:center;">9</span>
<span class="t k" style="top:309.75px;font-size:10px;color:#1e1e1e;letter-spacing:-0.600px;left:34.00px;">261702</span>
<span class="t k" style="top:309.75px;font-size:10px;color:#1e1e1e;font-style:italic;letter-spacing:-0.120px;right:700.50px;">12/4/2021</span>
<span class="t k" style="top:309.75px;font-size:10px;color:#1e1e1e;font-style:italic;letter-spacing:-0.120px;right:564.20px;">31</span>
<span class="t k" style="top:309.75px;font-size:9.7px;color:#1e1e1e;letter-spacing:-0.200px;left:441.70px;">Young (25-34)</span>
<span class="t k" style="top:309.75px;font-size:9.7px;color:#1e1e1e;letter-spacing:-0.200px;left:577.80px;">F</span>
<span class="t k" style="top:309.75px;font-size:9.7px;color:#1e1e1e;letter-spacing:-0.200px;left:713.20px;max-width:52.6px;overflow:hidden;">Australia</span>
<span class="t rn" style="top:327.75px;font-size:10px;color:#4c4c4c;letter-spacing:-0.600px;left:-81.20px;width:200px;text-align:center;">10</span>
<span class="t k" style="top:327.75px;font-size:10px;color:#1e1e1e;letter-spacing:-0.600px;left:34.00px;">261703</span>
<span class="t k" style="top:327.75px;font-size:10px;color:#1e1e1e;font-style:italic;letter-spacing:-0.120px;right:700.50px;">12/5/2021</span>
<span class="t k" style="top:327.75px;font-size:10px;color:#1e1e1e;font-style:italic;letter-spacing:-0.120px;right:564.20px;">39</span>
<span class="t k" style="top:327.75px;font-size:9.7px;color:#1e1e1e;letter-spacing:-0.200px;left:441.70px;">Adult (35-64)</span>
<span class="t k" style="top:327.75px;font-size:9.7px;color:#1e1e1e;letter-spacing:-0.200px;left:577.80px;">F</span>
<span class="t k" style="top:327.75px;font-size:9.7px;color:#1e1e1e;letter-spacing:-0.200px;left:713.20px;max-width:52.6px;overflow:hidden;">United States</span>
<span class="t rn" style="top:345.75px;font-size:10px;color:#4c4c4c;letter-spacing:-0.600px;left:-81.20px;width:200px;text-align:center;">11</span>
<span class="t k" style="top:345.75px;font-size:10px;color:#1e1e1e;letter-spacing:-0.600px;left:34.00px;">261704</span>
<span class="t k" style="top:345.75px;font-size:10px;color:#1e1e1e;font-style:italic;letter-spacing:-0.120px;right:700.50px;">12/5/2021</span>
<span class="t k" style="top:345.75px;font-size:10px;color:#1e1e1e;font-style:italic;letter-spacing:-0.120px;right:564.20px;">42</span>
<span class="t k" style="top:345.75px;font-size:9.7px;color:#1e1e1e;letter-spacing:-0.200px;left:441.70px;">Adult (35-64)</span>
<span class="t k" style="top:345.75px;font-size:9.7px;color:#1e1e1e;letter-spacing:-0.200px;left:577.80px;">M</span>
<span class="t k" style="top:345.75px;font-size:9.7px;color:#1e1e1e;letter-spacing:-0.200px;left:713.20px;max-width:52.6px;overflow:hidden;">Germany</span>
<span class="t rn" style="top:362.75px;font-size:10px;color:#4c4c4c;letter-spacing:-0.600px;left:-81.20px;width:200px;text-align:center;">12</span>
<span class="t k" style="top:362.75px;font-size:10px;color:#1e1e1e;letter-spacing:-0.600px;left:34.00px;">261705</span>
<span class="t k" style="top:362.75px;font-size:10px;color:#1e1e1e;font-style:italic;letter-spacing:-0.120px;right:700.50px;">12/5/2021</span>
<span class="t k" style="top:362.75px;font-size:10px;color:#1e1e1e;font-style:italic;letter-spacing:-0.120px;right:564.20px;">35</span>
<span class="t k" style="top:362.75px;font-size:9.7px;color:#1e1e1e;letter-spacing:-0.200px;left:441.70px;">Young (25-34)</span>
<span class="t k" style="top:362.75px;font-size:9.7px;color:#1e1e1e;letter-spacing:-0.200px;left:577.80px;">F</span>
<span class="t k" style="top:362.75px;font-size:9.7px;color:#1e1e1e;letter-spacing:-0.200px;left:713.20px;max-width:52.6px;overflow:hidden;">Australia</span>
<span class="t rn" style="top:380.75px;font-size:10px;color:#4c4c4c;letter-spacing:-0.600px;left:-81.20px;width:200px;text-align:center;">13</span>
<span class="t k" style="top:380.75px;font-size:10px;color:#1e1e1e;letter-spacing:-0.600px;left:34.00px;">261706</span>
<span class="t k" style="top:380.75px;font-size:10px;color:#1e1e1e;font-style:italic;letter-spacing:-0.120px;right:700.50px;">12/5/2021</span>
<span class="t k" style="top:380.75px;font-size:10px;color:#1e1e1e;font-style:italic;letter-spacing:-0.120px;right:564.20px;">37</span>
<span class="t k" style="top:380.75px;font-size:9.7px;color:#1e1e1e;letter-spacing:-0.200px;left:441.70px;">Adult (35-64)</span>
<span class="t k" style="top:380.75px;font-size:9.7px;color:#1e1e1e;letter-spacing:-0.200px;left:577.80px;">F</span>
<span class="t k" style="top:380.75px;font-size:9.7px;color:#1e1e1e;letter-spacing:-0.200px;left:713.20px;max-width:52.6px;overflow:hidden;">United States</span>
<span class="t rn" style="top:398.75px;font-size:10px;color:#4c4c4c;letter-spacing:-0.600px;left:-81.20px;width:200px;text-align:center;">14</span>
<span class="t k" style="top:398.75px;font-size:10px;color:#1e1e1e;letter-spacing:-0.600px;left:34.00px;">261707</span>
<span class="t k" style="top:398.75px;font-size:10px;color:#1e1e1e;font-style:italic;letter-spacing:-0.120px;right:700.50px;">12/6/2021</span>
<span class="t k" style="top:398.75px;font-size:10px;color:#1e1e1e;font-style:italic;letter-spacing:-0.120px;right:564.20px;">23</span>
<span class="t k" style="top:398.75px;font-size:9.7px;color:#1e1e1e;letter-spacing:-0.200px;left:441.70px;">Youth</span>
<span class="t k" style="top:398.75px;font-size:9.7px;color:#1e1e1e;letter-spacing:-0.200px;left:577.80px;">M</span>
<span class="t k" style="top:398.75px;font-size:9.7px;color:#1e1e1e;letter-spacing:-0.200px;left:713.20px;max-width:52.6px;overflow:hidden;">United Kingdom</span>
<span class="t rn" style="top:416.75px;font-size:10px;color:#4c4c4c;letter-spacing:-0.600px;left:-81.20px;width:200px;text-align:center;">15</span>
<span class="t k" style="top:416.75px;font-size:10px;color:#1e1e1e;letter-spacing:-0.600px;left:34.00px;">261708</span>
<span class="t k" style="top:416.75px;font-size:10px;color:#1e1e1e;font-style:italic;letter-spacing:-0.120px;right:700.50px;">12/6/2021</span>
<span class="t k" style="top:416.75px;font-size:10px;color:#1e1e1e;font-style:italic;letter-spacing:-0.120px;right:564.20px;">27</span>
<span class="t k" style="top:416.75px;font-size:9.7px;color:#1e1e1e;letter-spacing:-0.200px;left:441.70px;">Young (25-34)</span>
<span class="t k" style="top:416.75px;font-size:9.7px;color:#1e1e1e;letter-spacing:-0.200px;left:577.80px;">M</span>
<span class="t k" style="top:416.75px;font-size:9.7px;color:#1e1e1e;letter-spacing:-0.200px;left:713.20px;max-width:52.6px;overflow:hidden;">Canada</span>
<span class="t rn" style="top:435.75px;font-size:10px;color:#4c4c4c;letter-spacing:-0.600px;left:-81.20px;width:200px;text-align:center;">16</span>
<div style="left:766.5px;top:169px;width:13.5px;height:270px;background:#f0f0f0;"></div>
<div style="left:767px;top:198px;width:12.5px;height:62px;background:#c9c9c9;"></div>
<svg style="left:767px;top:181px" width="12" height="12" viewBox="0 0 12 12"><path d="M1.5 9.4 L6 3.6 L10.5 9.4" stroke="#333" stroke-width="2" fill="none"/></svg>
<svg style="left:767px;top:415px" width="12" height="10" viewBox="0 0 12 10"><path d="M1.6 2.2 L6 7.2 L10.4 2.2" stroke="#333" stroke-width="2" fill="none"/></svg>
<div style="left:31.5px;top:439px;width:748.5px;height:13px;background:#f0f0f0;"></div>
<div style="left:60px;top:440px;width:202px;height:11.6px;background:#c9c9c9;"></div>
<svg style="left:45px;top:440px" width="10" height="12" viewBox="0 0 10 12"><path d="M8 1.4 L2.8 6 L8 10.6" stroke="#333" stroke-width="2" fill="none"/></svg>
<svg style="left:743px;top:440px" width="10" height="12" viewBox="0 0 10 12"><path d="M2 1.4 L7.2 6 L2 10.6" stroke="#333" stroke-width="2" fill="none"/></svg>
<div style="left:0px;top:451.6px;width:1000px;height:1.0px;background:#c6c6c6;"></div>
<div style="left:0px;top:452.6px;width:1000px;height:1.4px;background:#f3f2f1;"></div>
<div style="left:779.7px;top:55px;width:1.0px;height:397px;background:#e2e2e2;"></div>
<div style="left:780.7px;top:0px;width:2.3px;height:452px;background:#f9f9f9;"></div>
<div style="left:783px;top:0px;width:1.4px;height:452px;background:#dadada;"></div>
<div style="left:784.4px;top:0px;width:1.0px;height:452px;background:#f9f9f9;"></div>
<span class="t " id="qs" style="top:3.25px;font-size:11.5px;color:#333;letter-spacing:-0.247px;left:793.90px;">Query Settings</span>
<svg style="left:976px;top:7px" width="13" height="12" viewBox="976 7 13 12"><path d="M977.8 8.6 L986.8 17.2 M986.8 8.6 L977.8 17.2" stroke="#444" stroke-width="1.1" fill="none"/></svg>
<svg style="left:792.6px;top:37.1px" width="7" height="7" viewBox="0 0 7 7"><path d="M5.4 0.5 V5.3 H0.5 Z" fill="#2a2a2a"/></svg>
<span class="t " id="prop" style="top:30.75px;font-size:10px;color:#111;font-weight:bold;letter-spacing:-0.767px;left:804.30px;">PROPERTIES</span>
<span class="t " id="name" style="top:47.75px;font-size:10px;color:#222;letter-spacing:0.300px;left:804.30px;">Name</span>
<div style="left:803.8px;top:65px;width:185.0px;height:18.7px;background:#fff;border:1px solid #bdbdbd;box-sizing:border-box;"></div>
<span class="t " id="bike" style="top:65.75px;font-size:10px;color:#222;letter-spacing:-0.612px;left:809.40px;">Bike Sales</span>
<span class="t " id="allp" style="top:87.75px;font-size:10px;color:#155c50;letter-spacing:-0.038px;left:804.30px;">All Properties</span>
<svg style="left:792.7px;top:122.7px" width="7" height="7" viewBox="0 0 7 7"><path d="M5.4 0.5 V5.3 H0.5 Z" fill="#2a2a2a"/></svg>
<span class="t " id="appl" style="top:116.75px;font-size:10px;color:#111;font-weight:bold;letter-spacing:-0.641px;left:804.30px;">APPLIED STEPS</span>
<div style="left:803.8px;top:137.2px;width:185.0px;height:294.1px;background:#f3f2f1;border:1px solid #c8c8c8;box-sizing:border-box;"></div>
<div style="left:804.8px;top:410.2px;width:169.0px;height:16.6px;background:#cdcdcd;"></div>
<div style="left:804.8px;top:410.2px;width:1.6px;height:16.6px;background:#1e6b4f;"></div>
<span class="t " id="step0" style="top:137.75px;font-size:9.9px;color:#1c1c1c;letter-spacing:0.090px;left:823.70px;">Promoted Headers</span>
<svg style="left:957.1px;top:141.6px" width="10" height="10" viewBox="0 0 10 10"><g fill="none" stroke="#9c9c9c"><path d="M7.50 5.00 L9.70 5.00 M6.25 7.17 L7.35 9.07 M3.75 7.17 L2.65 9.07 M2.50 5.00 L0.30 5.00 M3.75 2.83 L2.65 0.93 M6.25 2.83 L7.35 0.93" stroke-width="1.3"/><circle cx="5" cy="5" r="2.2" stroke-width="1.3"/></g></svg>
<span class="t " id="step1" style="top:154.75px;font-size:9.9px;color:#1c1c1c;letter-spacing:0.090px;left:823.70px;">Changed Type</span>
<span class="t " id="step2" style="top:171.75px;font-size:9.9px;color:#1c1c1c;letter-spacing:0.090px;left:823.70px;">Removed Columns</span>
<span class="t " id="step3" style="top:188.75px;font-size:9.9px;color:#1c1c1c;letter-spacing:0.090px;left:823.70px;">Changed Type1</span>
<span class="t " id="step4" style="top:205.75px;font-size:9.9px;color:#1c1c1c;letter-spacing:0.090px;left:823.70px;">Changed Type with Locale</span>
<svg style="left:957.1px;top:209.6px" width="10" height="10" viewBox="0 0 10 10"><g fill="none" stroke="#9c9c9c"><path d="M7.50 5.00 L9.70 5.00 M6.25 7.17 L7.35 9.07 M3.75 7.17 L2.65 9.07 M2.50 5.00 L0.30 5.00 M3.75 2.83 L2.65 0.93 M6.25 2.83 L7.35 0.93" stroke-width="1.3"/><circle cx="5" cy="5" r="2.2" stroke-width="1.3"/></g></svg>
<span class="t " id="step5" style="top:222.75px;font-size:9.9px;color:#1c1c1c;letter-spacing:0.090px;left:823.70px;">Capitalized Each Word</span>
<span class="t " id="step6" style="top:239.75px;font-size:9.9px;color:#1c1c1c;letter-spacing:0.090px;left:823.70px;">Trimmed Text</span>
<span class="t " id="step7" style="top:256.75px;font-size:9.9px;color:#1c1c1c;letter-spacing:0.090px;left:823.70px;">Cleaned Text</span>
<span class="t " id="step8" style="top:273.75px;font-size:9.9px;color:#1c1c1c;letter-spacing:0.090px;left:823.70px;">Replaced Value</span>
<svg style="left:957.1px;top:277.6px" width="10" height="10" viewBox="0 0 10 10"><g fill="none" stroke="#9c9c9c"><path d="M7.50 5.00 L9.70 5.00 M6.25 7.17 L7.35 9.07 M3.75 7.17 L2.65 9.07 M2.50 5.00 L0.30 5.00 M3.75 2.83 L2.65 0.93 M6.25 2.83 L7.35 0.93" stroke-width="1.3"/><circle cx="5" cy="5" r="2.2" stroke-width="1.3"/></g></svg>
<span class="t " id="step9" style="top:290.75px;font-size:9.9px;color:#1c1c1c;letter-spacing:0.090px;left:823.70px;">Added Conditional Column</span>
<svg style="left:957.1px;top:294.6px" width="10" height="10" viewBox="0 0 10 10"><g fill="none" stroke="#9c9c9c"><path d="M7.50 5.00 L9.70 5.00 M6.25 7.17 L7.35 9.07 M3.75 7.17 L2.65 9.07 M2.50 5.00 L0.30 5.00 M3.75 2.83 L2.65 0.93 M6.25 2.83 L7.35 0.93" stroke-width="1.3"/><circle cx="5" cy="5" r="2.2" stroke-width="1.3"/></g></svg>
<span class="t " id="step10" style="top:307.75px;font-size:9.9px;color:#1c1c1c;letter-spacing:0.090px;left:823.70px;">Removed Columns1</span>
<span class="t " id="step11" style="top:324.75px;font-size:9.9px;color:#1c1c1c;letter-spacing:0.090px;left:823.70px;">Reordered Columns</span>
<span class="t " id="step12" style="top:341.75px;font-size:9.9px;color:#1c1c1c;letter-spacing:0.090px;left:823.70px;">Split Column by Delimiter</span>
<svg style="left:957.1px;top:345.6px" width="10" height="10" viewBox="0 0 10 10"><g fill="none" stroke="#9c9c9c"><path d="M7.50 5.00 L9.70 5.00 M6.25 7.17 L7.35 9.07 M3.75 7.17 L2.65 9.07 M2.50 5.00 L0.30 5.00 M3.75 2.83 L2.65 0.93 M6.25 2.83 L7.35 0.93" stroke-width="1.3"/><circle cx="5" cy="5" r="2.2" stroke-width="1.3"/></g></svg>
<span class="t " id="step13" style="top:358.75px;font-size:9.9px;color:#1c1c1c;letter-spacing:0.090px;left:823.70px;">Changed Type2</span>
<span class="t " id="step14" style="top:375.75px;font-size:9.9px;color:#1c1c1c;letter-spacing:0.090px;left:823.70px;">Split Column by Delimiter1</span>
<svg style="left:957.1px;top:379.6px" width="10" height="10" viewBox="0 0 10 10"><g fill="none" stroke="#9c9c9c"><path d="M7.50 5.00 L9.70 5.00 M6.25 7.17 L7.35 9.07 M3.75 7.17 L2.65 9.07 M2.50 5.00 L0.30 5.00 M3.75 2.83 L2.65 0.93 M6.25 2.83 L7.35 0.93" stroke-width="1.3"/><circle cx="5" cy="5" r="2.2" stroke-width="1.3"/></g></svg>
<span class="t " id="step15" style="top:392.75px;font-size:9.9px;color:#1c1c1c;letter-spacing:0.090px;left:823.70px;">Changed Type3</span>
<span class="t " id="step16" style="top:409.75px;font-size:9.9px;color:#1c1c1c;letter-spacing:0.090px;left:823.70px;">Renamed Columns</span>
<svg style="left:810px;top:414px" width="11" height="10" viewBox="810 414 11 10"><path d="M811.2 415.4 L819.4 422.8 M819.4 415.4 L811.2 422.8" stroke="#444" stroke-width="1.1" fill="none"/></svg>
<div style="left:974.8px;top:138.2px;width:13.0px;height:292.1px;background:#f0f0f0;"></div>
<div style="left:975px;top:192.7px;width:12.2px;height:208.5px;background:#c9c9c9;"></div>
<svg style="left:975px;top:151px" width="12" height="10" viewBox="0 0 12 10"><path d="M1.4 8.2 L6 3 L10.6 8.2" stroke="#333" stroke-width="1.9" fill="none"/></svg>
<svg style="left:975px;top:408px" width="12" height="10" viewBox="0 0 12 10"><path d="M1.4 1.8 L6 7 L10.6 1.8" stroke="#333" stroke-width="1.9" fill="none"/></svg>
</div>
</body></html>
